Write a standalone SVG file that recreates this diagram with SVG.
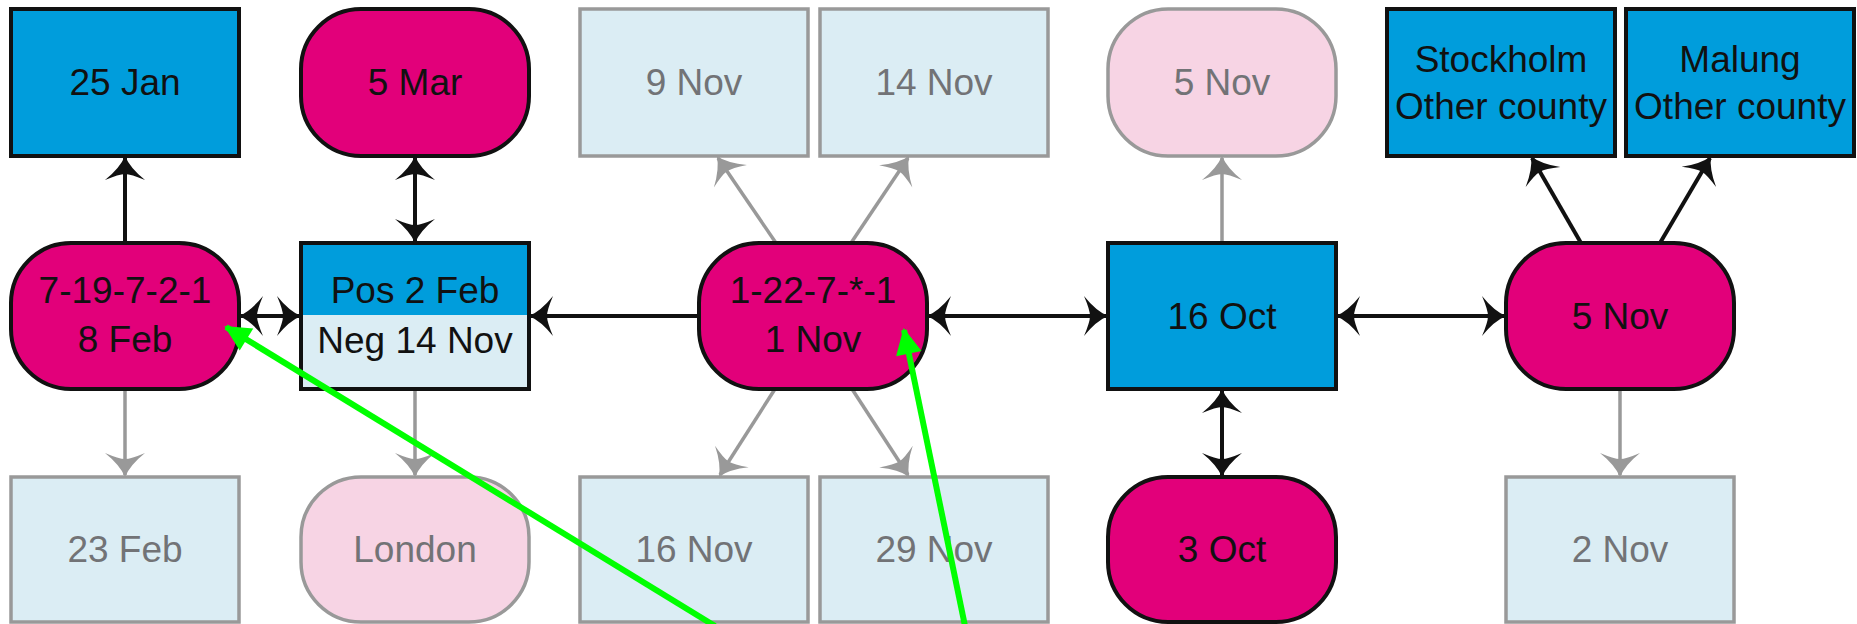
<svg xmlns="http://www.w3.org/2000/svg" width="1857" height="624" viewBox="0 0 1857 624">
<defs>
<style>
.blue{fill:#009ddc;stroke:#111;stroke-width:4}
.mag{fill:#e2007a;stroke:#111;stroke-width:4}
.lb{fill:#dbedf4;stroke:#999;stroke-width:3.5}
.pk{fill:#f7d4e4;stroke:#999;stroke-width:3.5}
text{font-family:"Liberation Sans",Arial,sans-serif;font-size:37px;text-anchor:middle}
.dk{fill:#111}
.gr{fill:#727376}
.cb{stroke:#111;stroke-width:4;fill:none;marker-end:url(#ab)}
.cbb{stroke:#111;stroke-width:4;fill:none;marker-end:url(#ab);marker-start:url(#ab)}
.cg{stroke:#999;stroke-width:3.5;fill:none;marker-end:url(#ag)}
.cgr{stroke:#00ff00;stroke-width:6;fill:none;marker-end:url(#agr)}
</style>
<marker id="ab" markerUnits="userSpaceOnUse" viewBox="-26 -22 30 44" refX="0" refY="0" markerWidth="30" markerHeight="44" orient="auto-start-reverse">
<path d="M2,0 Q-10,-5 -22,-20 Q-16,-6 -16,0 Q-16,6 -22,20 Q-10,5 2,0 Z" fill="#111"/>
</marker>
<marker id="ag" markerUnits="userSpaceOnUse" viewBox="-26 -22 30 44" refX="0" refY="0" markerWidth="30" markerHeight="44" orient="auto-start-reverse">
<path d="M2,0 Q-10,-5 -22,-20 Q-16,-6 -16,0 Q-16,6 -22,20 Q-10,5 2,0 Z" fill="#999"/>
</marker>
<marker id="agr" markerUnits="userSpaceOnUse" viewBox="-26 -16 30 32" refX="0" refY="0" markerWidth="30" markerHeight="32" orient="auto">
<path d="M2,0 L-24,-13 L-24,13 Z" fill="#00ff00"/>
</marker>
</defs>

<g id="connectors">
<line class="cb" x1="125" y1="243" x2="125" y2="158"/>
<line class="cbb" x1="415" y1="158" x2="415" y2="241"/>
<line class="cbb" x1="241" y1="316" x2="299" y2="316"/>
<line class="cb" x1="699" y1="316" x2="531" y2="316"/>
<line class="cbb" x1="929" y1="316" x2="1106" y2="316"/>
<line class="cbb" x1="1338" y1="316" x2="1504" y2="316"/>
<line class="cbb" x1="1222" y1="391" x2="1222" y2="475"/>
<line class="cb" x1="1581" y1="243" x2="1532" y2="158"/>
<line class="cb" x1="1660" y1="243" x2="1710" y2="158"/>
<line class="cg" x1="1222" y1="243" x2="1222" y2="158"/>
<line class="cg" x1="1620" y1="389" x2="1620" y2="475"/>
<line class="cg" x1="125" y1="389" x2="125" y2="475"/>
<line class="cg" x1="415" y1="389" x2="415" y2="475"/>
<line class="cg" x1="776" y1="243" x2="718" y2="158"/>
<line class="cg" x1="851" y1="243" x2="908" y2="158"/>
<line class="cg" x1="775" y1="389" x2="720" y2="475"/>
<line class="cg" x1="852" y1="389" x2="908" y2="475"/>
</g>

<g id="n-25jan"><rect class="blue" x="11" y="9" width="228" height="147"/><text class="dk" x="125" y="95">25 Jan</text></g>
<g id="n-5mar"><rect class="mag" x="301" y="9" width="228" height="147" rx="60" ry="60"/><text class="dk" x="415" y="95">5 Mar</text></g>
<g id="n-9nov"><rect class="lb" x="580" y="9" width="228" height="147"/><text class="gr" x="694" y="95">9 Nov</text></g>
<g id="n-14nov"><rect class="lb" x="820" y="9" width="228" height="147"/><text class="gr" x="934" y="95">14 Nov</text></g>
<g id="n-5nov-top"><rect class="pk" x="1108" y="9" width="228" height="147" rx="60" ry="60"/><text class="gr" x="1222" y="95">5 Nov</text></g>
<g id="n-stockholm"><rect class="blue" x="1387" y="9" width="228" height="147"/><text class="dk" x="1501" y="72">Stockholm</text><text class="dk" x="1501" y="119">Other county</text></g>
<g id="n-malung"><rect class="blue" x="1626" y="9" width="228" height="147"/><text class="dk" x="1740" y="72">Malung</text><text class="dk" x="1740" y="119">Other county</text></g>

<g id="n-71972"><rect class="mag" x="11" y="243" width="228" height="146" rx="60" ry="60"/><text class="dk" x="125" y="303">7-19-7-2-1</text><text class="dk" x="125" y="352">8 Feb</text></g>
<g id="n-posneg"><rect x="301" y="243" width="228" height="72" fill="#009ddc"/><rect x="301" y="315" width="228" height="74" fill="#dbedf4"/><rect x="301" y="243" width="228" height="146" fill="none" stroke="#111" stroke-width="4"/><text class="dk" x="415" y="303">Pos 2 Feb</text><text class="dk" x="415" y="353">Neg 14 Nov</text></g>
<g id="n-1227"><rect class="mag" x="699" y="243" width="228" height="146" rx="60" ry="60"/><text class="dk" x="813" y="303">1-22-7-*-1</text><text class="dk" x="813" y="352">1 Nov</text></g>
<g id="n-16oct"><rect class="blue" x="1108" y="243" width="228" height="146"/><text class="dk" x="1222" y="329">16 Oct</text></g>
<g id="n-5nov-mid"><rect class="mag" x="1506" y="243" width="228" height="146" rx="60" ry="60"/><text class="dk" x="1620" y="329">5 Nov</text></g>

<g id="n-23feb"><rect class="lb" x="11" y="477" width="228" height="145"/><text class="gr" x="125" y="562">23 Feb</text></g>
<g id="n-london"><rect class="pk" x="301" y="477" width="228" height="145" rx="60" ry="60"/><text class="gr" x="415" y="562">London</text></g>
<g id="n-16nov"><rect class="lb" x="580" y="477" width="228" height="145"/><text class="gr" x="694" y="562">16 Nov</text></g>
<g id="n-29nov"><rect class="lb" x="820" y="477" width="228" height="145"/><text class="gr" x="934" y="562">29 Nov</text></g>
<g id="n-3oct"><rect class="mag" x="1108" y="477" width="228" height="145" rx="60" ry="60"/><text class="dk" x="1222" y="562">3 Oct</text></g>
<g id="n-2nov"><rect class="lb" x="1506" y="477" width="228" height="145"/><text class="gr" x="1620" y="562">2 Nov</text></g>

<g id="annotations">
<line class="cgr" x1="715" y1="626" x2="226" y2="327"/>
<line class="cgr" x1="965" y1="626" x2="904" y2="330"/>
</g>
</svg>
